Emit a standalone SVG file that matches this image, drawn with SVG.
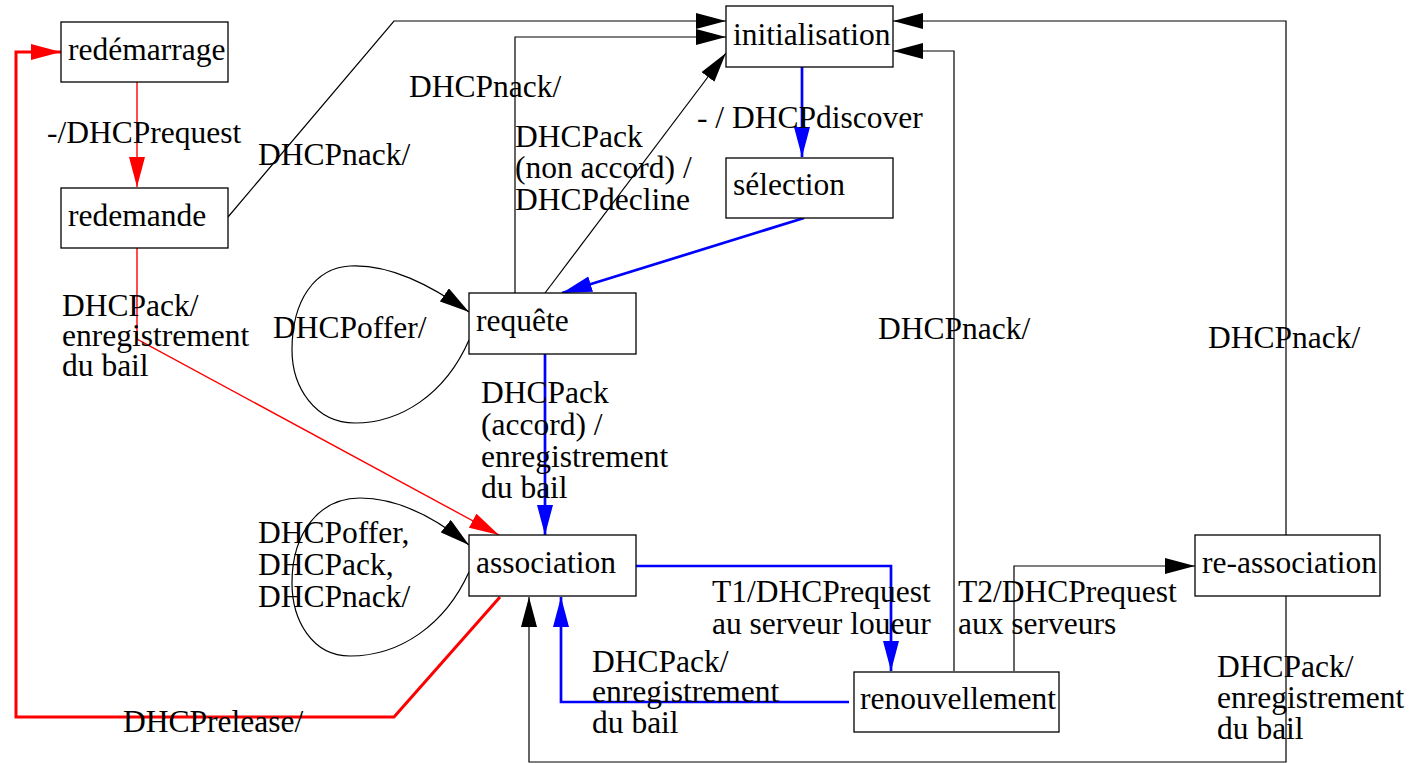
<svg xmlns="http://www.w3.org/2000/svg" width="1415" height="763" viewBox="0 0 1415 763">
<defs>
<style>
text{font-family:"Liberation Serif","Times New Roman",serif;font-size:31.5px;fill:#000}
.box{fill:#fff;stroke:#000;stroke-width:1.3}
.k{fill:none;stroke:#000;stroke-width:1.2}
.r{fill:none;stroke:#f00;stroke-width:1.4}
.R{fill:none;stroke:#f00;stroke-width:3}
.b{fill:none;stroke:#00f;stroke-width:2.7}
</style>
<marker id="ak" viewBox="0 0 30 16" refX="30" refY="8" markerWidth="30" markerHeight="16" orient="auto" markerUnits="userSpaceOnUse"><path d="M0,0L30,8L0,16z" fill="#000"/></marker>
<marker id="ar" viewBox="0 0 30 16" refX="30" refY="8" markerWidth="30" markerHeight="17" orient="auto" markerUnits="userSpaceOnUse"><path d="M0,0L30,8L0,16z" fill="#f00"/></marker>
<marker id="ab" viewBox="0 0 30 16" refX="30" refY="8" markerWidth="30" markerHeight="17" orient="auto" markerUnits="userSpaceOnUse"><path d="M0,0L30,8L0,16z" fill="#00f"/></marker>
</defs>
<rect width="1415" height="763" fill="#fff"/>
<g id="connectors">
<path class="r" d="M137,82V187" marker-end="url(#ar)"/>
<text x="47" y="143">-/DHCPrequest</text>
<path class="R" d="M500,597L394,717H16V52H61" marker-end="url(#ar)"/>
<text x="123" y="732">DHCPrelease/</text>
<path class="r" d="M137,248V339L499,535" marker-end="url(#ar)"/>
<text x="62" y="316">DHCPack/</text>
<text x="62" y="346">enregistrement</text>
<text x="62" y="376">du bail</text>
<path class="k" d="M228,217L394,21H726" marker-end="url(#ak)"/>
<text x="258" y="165">DHCPnack/</text>
<path class="k" d="M515,293V37H726" marker-end="url(#ak)"/>
<text x="409" y="97">DHCPnack/</text>
<path class="k" d="M545,293L726,53" marker-end="url(#ak)"/>
<text x="515" y="147">DHCPack</text>
<text x="515" y="178">(non accord) /</text>
<text x="515" y="210">DHCPdecline</text>
<path class="b" d="M802,67V157" marker-end="url(#ab)"/>
<text x="697" y="128">- / DHCPdiscover</text>
<path class="b" d="M804,218L562,293" marker-end="url(#ab)"/>
<path class="b" d="M545,354V535" marker-end="url(#ab)"/>
<text x="481" y="403">DHCPack</text>
<text x="481" y="435">(accord) /</text>
<text x="481" y="467">enregistrement</text>
<text x="481" y="498">du bail</text>
<path class="b" d="M636,566H891V671" marker-end="url(#ab)"/>
<text x="712" y="602">T1/DHCPrequest</text>
<text x="712" y="634">au serveur loueur</text>
<path class="b" d="M849,702H561V597" marker-end="url(#ab)"/>
<text x="592" y="672">DHCPack/</text>
<text x="592" y="702">enregistrement</text>
<text x="592" y="733">du bail</text>
<path class="k" d="M954,671V51H893" marker-end="url(#ak)"/>
<text x="878" y="339">DHCPnack/</text>
<path class="k" d="M1014,671V566H1195" marker-end="url(#ak)"/>
<text x="958" y="602">T2/DHCPrequest</text>
<text x="958" y="634">aux serveurs</text>
<path class="k" d="M1286,535V21H893" marker-end="url(#ak)"/>
<text x="1208" y="348">DHCPnack/</text>
<path class="k" d="M1286,596V762H529V597" marker-end="url(#ak)"/>
<text x="1217" y="677">DHCPack/</text>
<text x="1217" y="708">enregistrement</text>
<text x="1217" y="739">du bail</text>
<path class="k" d="M469,340C445,395 400,423 355,423C315,423 292,387 292,350C292,300 315,268 350,266C390,264 430,285 469,312" marker-end="url(#ak)"/>
<text x="273" y="338">DHCPoffer/</text>
<path class="k" d="M469,572C445,625 400,656 350,656C312,656 292,620 292,583C292,532 320,498 360,498C395,498 432,515 469,545" marker-end="url(#ak)"/>
<text x="258" y="543">DHCPoffer,</text>
<text x="258" y="575">DHCPack,</text>
<text x="258" y="607">DHCPnack/</text>
</g>
<g id="n-redemarrage"><rect class="box" x="61" y="22" width="167" height="60"/><text x="68" y="60">redémarrage</text></g>
<g id="n-redemande"><rect class="box" x="61" y="188" width="167" height="60"/><text x="68" y="226">redemande</text></g>
<g id="n-initialisation"><rect class="box" x="726" y="6" width="167" height="61"/><text x="733" y="45">initialisation</text></g>
<g id="n-selection"><rect class="box" x="726" y="158" width="167" height="60"/><text x="733" y="195">sélection</text></g>
<g id="n-requete"><rect class="box" x="469" y="293" width="167" height="61"/><text x="476" y="331">requête</text></g>
<g id="n-association"><rect class="box" x="469" y="535" width="167" height="61"/><text x="476" y="573">association</text></g>
<g id="n-renouvellement"><rect class="box" x="854" y="672" width="205" height="60"/><text x="860" y="709">renouvellement</text></g>
<g id="n-reassociation"><rect class="box" x="1195" y="535" width="185" height="61"/><text x="1202" y="573">re-association</text></g>
</svg>
